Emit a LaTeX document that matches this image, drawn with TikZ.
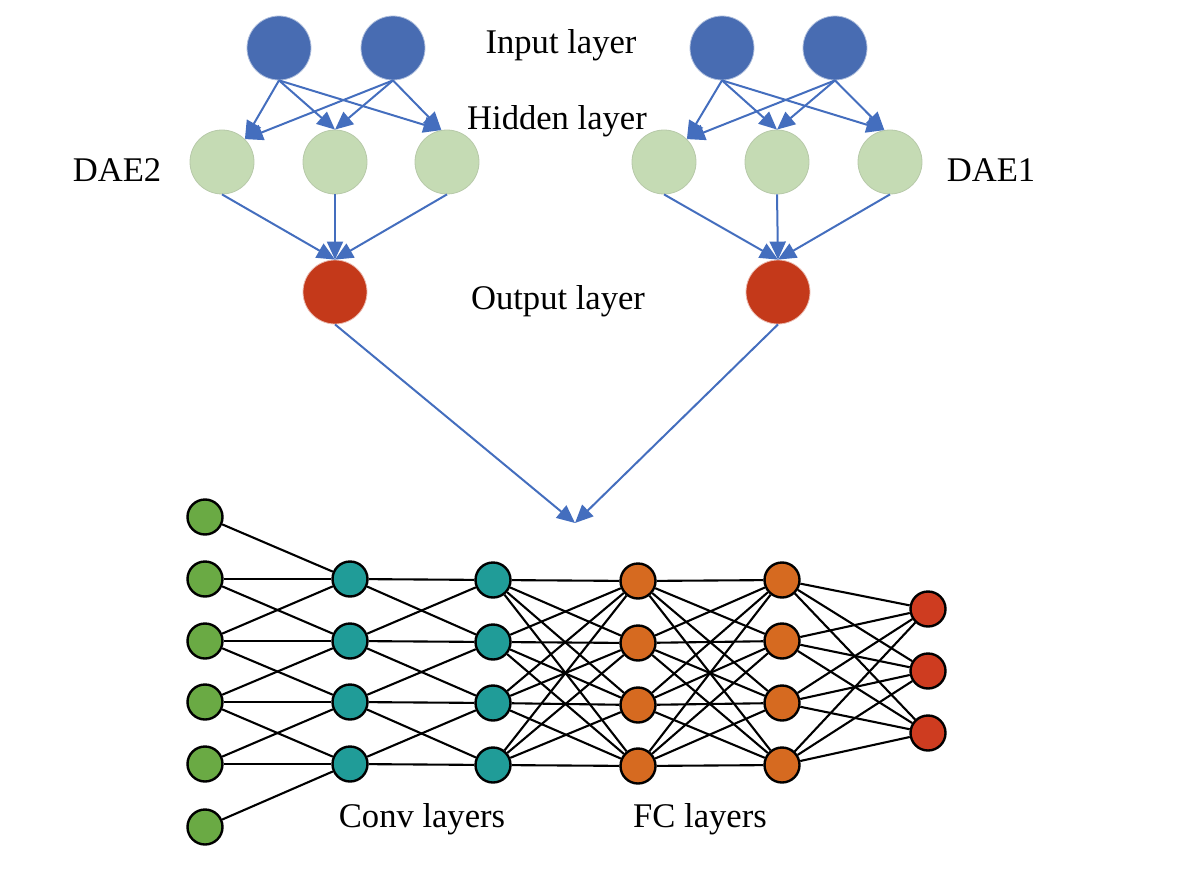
\documentclass[tikz,border=0pt]{standalone}
\usepackage{fontspec}
\setmainfont{Liberation Serif}
\usetikzlibrary{arrows.meta}

\definecolor{inblue}{RGB}{72,108,178}
\definecolor{hidgreen}{RGB}{197,219,180}
\definecolor{outred}{RGB}{196,57,26}
\definecolor{arrowblue}{RGB}{68,110,190}
\definecolor{ingreen}{RGB}{106,170,68}
\definecolor{convteal}{RGB}{32,156,152}
\definecolor{fcorange}{RGB}{214,106,32}
\definecolor{finalred}{RGB}{206,60,32}

\begin{document}
\begin{tikzpicture}[x=0.5pt, y=-0.5pt,
    dae/.style={circle, minimum size=32pt, inner sep=0pt},
    daearrow/.style={draw=arrowblue, line width=1pt, -{Triangle[length=9pt,width=8pt]}},
    unit/.style={circle, draw=black, line width=1.2pt, minimum size=17.5pt, inner sep=0pt},
    link/.style={black, line width=1.05pt},
    lbl/.style={font=\fontsize{17.3}{20}\selectfont}]
    \useasboundingbox (0,0) rectangle (1199,872);

    % DAE2 (left autoencoder)
    \node[dae, fill=inblue, draw=inblue!45] (a1) at (279,48) {};
    \node[dae, fill=inblue, draw=inblue!45] (a2) at (393,48) {};
    \node[dae, fill=hidgreen, draw=hidgreen!80!gray] (ah1) at (222,162) {};
    \node[dae, fill=hidgreen, draw=hidgreen!80!gray] (ah2) at (335,162) {};
    \node[dae, fill=hidgreen, draw=hidgreen!80!gray] (ah3) at (447,162) {};
    \node[dae, fill=outred, draw=outred!35] (ao) at (335,292) {};

    % DAE1 (right autoencoder)
    \node[dae, fill=inblue, draw=inblue!45] (b1) at (722,48) {};
    \node[dae, fill=inblue, draw=inblue!45] (b2) at (835,48) {};
    \node[dae, fill=hidgreen, draw=hidgreen!80!gray] (bh1) at (664,162) {};
    \node[dae, fill=hidgreen, draw=hidgreen!80!gray] (bh2) at (777,162) {};
    \node[dae, fill=hidgreen, draw=hidgreen!80!gray] (bh3) at (890,162) {};
    \node[dae, fill=outred, draw=outred!35] (bo) at (778,292) {};

    % input -> hidden -> output arrows
    \foreach \p in {a,b} {
        \foreach \q in {1,2} {
            \draw[daearrow] (\p\q.south) -- (\p h1.45);
            \draw[daearrow] (\p\q.south) -- (\p h2.north);
            \draw[daearrow] (\p\q.south) -- (\p h3.100);
        }
        \foreach \q in {1,2,3} {
            \draw[daearrow] (\p h\q.south) -- (\p o.north);
        }
    }

    % both outputs feed the CNN
    \coordinate (merge) at (575,523);
    \draw[daearrow] (ao.south) -- (merge);
    \draw[daearrow] (bo.south) -- (merge);

    % Labels of the autoencoders
    \node[lbl] (tin) at (561,45) {Input layer};
    \node[lbl] (thid) at (557,121) {Hidden layer};
    \node[lbl] (tout) at (558,301) {Output layer};
    \node[lbl] (tdae2) at (117,170) {DAE2};
    \node[lbl] (tdae1) at (991,170) {DAE1};

    % CNN layers
    \foreach \y [count=\k from 0] in {517,579,641,702,764,827} {
        \node[unit, fill=ingreen] (n\k) at (205,\y) {};
    }
    \foreach \y [count=\k from 0] in {579,641,702,764} {
        \node[unit, fill=convteal] (c\k) at (350,\y) {};
    }
    \foreach \y [count=\k from 0] in {580,642,703,765} {
        \node[unit, fill=convteal] (d\k) at (493,\y) {};
    }
    \foreach \y [count=\k from 0] in {581,643,705,766} {
        \node[unit, fill=fcorange] (f\k) at (638,\y) {};
    }
    \foreach \y [count=\k from 0] in {580,641,703,765} {
        \node[unit, fill=fcorange] (g\k) at (782,\y) {};
    }
    \foreach \y [count=\k from 0] in {609,671,733} {
        \node[unit, fill=finalred] (o\k) at (928,\y) {};
    }

    % Connections
    \foreach \j in {0,...,3} {
        \foreach \d in {0,1,2} {
            \pgfmathtruncatemacro{\i}{\j+\d}
            \draw[link] (n\i) -- (c\j);
        }
    }
    \foreach \i/\j in {0/0,0/1,1/0,1/1,1/2,2/1,2/2,2/3,3/2,3/3} {
        \draw[link] (c\i) -- (d\j);
    }
    \foreach \i in {0,...,3} {
        \foreach \j in {0,...,3} {
            \draw[link] (d\i) -- (f\j);
            \draw[link] (f\i) -- (g\j);
        }
        \foreach \j in {0,1,2} {
            \draw[link] (g\i) -- (o\j);
        }
    }

    \node[lbl] (tconv) at (422,819) {Conv layers};
    \node[lbl] (tfc) at (700,819) {FC layers};
\end{tikzpicture}
\end{document}
